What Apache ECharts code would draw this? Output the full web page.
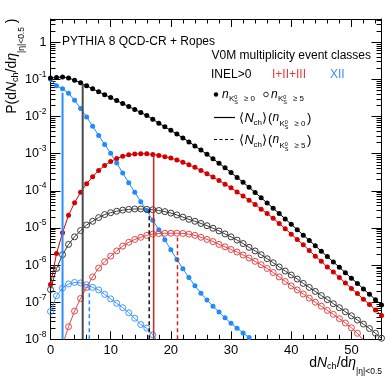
<!DOCTYPE html>
<html>
<head>
<meta charset="utf-8">
<script src="https://cdn.jsdelivr.net/npm/echarts@6/dist/echarts.min.js"></script>
<style>
html, body { margin: 0; padding: 0; background: #fff; }
#chart { width: 389px; height: 378px; }
</style>
</head>
<body>
<div id="chart"></div>
<script>
// dNch/deta bins
const nch = [0,1,2,3,4,5,6,7,8,9,10,11,12,13,14,15,16,17,18,19,20,21,22,23,24,25,26,27,
  28,29,30,31,32,33,34,35,36,37,38,39,40,41,42,43,44,45,46,47,48,49,50,51,52,53,54,55];

// n(K0S) >= 0, filled markers
const inelAll = [0.110,0.112,0.117,0.110,0.0955,0.0813,0.0676,0.0562,0.0468,0.0389,0.0324,0.0269,
  0.0224,0.0186,0.0155,0.0129,0.0107,8.5e-3,6.6e-3,5.3e-3,4.25e-3,3.37e-3,2.66e-3,2.08e-3,1.62e-3,
  1.25e-3,9.6e-4,7.3e-4,5.5e-4,4.2e-4,3.1e-4,2.3e-4,1.7e-4,1.24e-4,9.0e-5,6.5e-5,4.7e-5,3.4e-5,
  2.44e-5,1.75e-5,1.25e-5,9.0e-6,6.4e-6,4.6e-6,3.3e-6,2.36e-6,1.69e-6,1.21e-6,8.7e-7,6.2e-7,4.4e-7,
  3.2e-7,2.28e-7,1.63e-7,1.17e-7,8.4e-8];
const midAll = [3.0e-7,2.04e-6,7.4e-6,2.19e-5,4.8e-5,9.1e-5,1.55e-4,2.4e-4,3.55e-4,4.8e-4,6.2e-4,
  7.4e-4,8.5e-4,9.3e-4,9.8e-4,1.0e-3,9.9e-4,9.5e-4,9.0e-4,8.3e-4,7.6e-4,6.8e-4,5.9e-4,5.0e-4,4.3e-4,
  3.55e-4,2.9e-4,2.34e-4,1.9e-4,1.51e-4,1.2e-4,9.3e-5,7.2e-5,5.6e-5,4.3e-5,3.2e-5,2.45e-5,1.82e-5,
  1.32e-5,9.5e-6,6.8e-6,4.9e-6,3.5e-6,2.45e-6,1.74e-6,1.26e-6,8.9e-7,6.5e-7,4.6e-7,3.3e-7,2.34e-7,
  1.7e-7,1.2e-7,8.7e-8,6.2e-8,4.4e-8];
const highAll = [0.102,0.0676,0.0562,0.0427,0.0275,0.0166,9.8e-3,5.5e-3,3.1e-3,1.78e-3,1.02e-3,
  5.6e-4,3.0e-4,1.66e-4,9.1e-5,5.1e-5,2.95e-5,1.62e-5,8.9e-6,4.8e-6,2.57e-6,1.41e-6,7.9e-7,4.6e-7,
  2.75e-7,1.74e-7,1.15e-7,7.8e-8,5.4e-8,3.8e-8,2.7e-8,2.0e-8,1.48e-8,1.12e-8];

// n(K0S) >= 5, open markers
const inelK5 = [2.19e-7,8.1e-7,1.9e-6,3.6e-6,5.75e-6,8.5e-6,1.2e-5,1.51e-5,1.9e-5,2.29e-5,2.57e-5,
  2.82e-5,3.02e-5,3.16e-5,3.24e-5,3.24e-5,3.16e-5,3.09e-5,2.95e-5,2.75e-5,2.51e-5,2.24e-5,1.95e-5,
  1.7e-5,1.51e-5,1.32e-5,1.15e-5,9.8e-6,8.3e-6,6.9e-6,5.75e-6,4.7e-6,3.8e-6,3.0e-6,2.4e-6,1.9e-6,
  1.48e-6,1.15e-6,8.9e-7,6.9e-7,5.4e-7,4.2e-7,3.2e-7,2.5e-7,1.95e-7,1.51e-7,1.17e-7,9.1e-8,7.1e-8,
  5.5e-8,4.3e-8,3.3e-8,2.57e-8,1.95e-8,1.45e-8,1.07e-8];
const midK5Start = 2;
const midK5 = [7.1e-9,2.19e-8,5.75e-8,1.26e-7,2.5e-7,4.8e-7,8.3e-7,1.23e-6,1.74e-6,2.4e-6,3.24e-6,
  4.1e-6,4.9e-6,5.6e-6,6.3e-6,6.8e-6,7.1e-6,7.2e-6,7.2e-6,7.2e-6,7.1e-6,6.8e-6,6.3e-6,5.6e-6,4.9e-6,
  4.3e-6,3.6e-6,3.1e-6,2.63e-6,2.24e-6,1.86e-6,1.55e-6,1.26e-6,1.02e-6,8.1e-7,6.3e-7,4.8e-7,3.6e-7,
  2.75e-7,2.14e-7,1.66e-7,1.29e-7,1.0e-7,7.8e-8,6.0e-8,4.7e-8,3.6e-8,2.75e-8,2.04e-8,1.45e-8,9.5e-9];
const highK5 = [5.6e-8,1.48e-7,2.4e-7,3.1e-7,3.4e-7,3.3e-7,2.95e-7,2.5e-7,2.14e-7,1.62e-7,1.23e-7,
  9.3e-8,7.1e-8,5.2e-8,3.7e-8,2.5e-8,2.0e-8,1.32e-8,7.9e-9];

// <Nch> markers: INEL>0, I+II+III, XII
const meanAllX = [5.35, 17.14, 2.0];
const meanAllTop = [0.071, 9.6e-4, 0.044];
const meanK5X = [16.4, 21.1, 6.45];
const meanK5Top = [3.15e-5, 5.5e-6, 2.9e-7];

// axis ticks
const xMajor = [0,10,20,30,40,50];
const xMinor = [2,4,6,8,12,14,16,18,22,24,26,28,32,34,36,38,42,44,46,48,52,54];
const yMajor = [1e-8,1e-7,1e-6,1e-5,1e-4,1e-3,1e-2,1e-1,1];
const yMinorMult = [2,3,4,5,6,7,8,9];
const yMin = 1e-8, yMax = 4.25;

const yMinor = [];
yMajor.forEach(function (d) {
  yMinorMult.forEach(function (m) { if (d * m < yMax) yMinor.push(d * m); });
});

const FONT = '"Liberation Sans", Arial, Helvetica, sans-serif';
const BLACK = '#000000', RED = '#d40000', BLUE = '#1f8bff';
const GREY = '#3a3a3a', RED_O = '#e34646', BLUE_O = '#3f95ff';

function pts(xs, ys) {
  return ys.map(function (y, i) { return [xs[i], y]; });
}

function filled(name, xs, ys, c) {
  return {
    name: name, type: 'line', data: pts(xs, ys),
    symbol: 'circle', symbolSize: 5, showAllSymbol: true,
    itemStyle: { color: c },
    lineStyle: { color: c, width: 1 },
    z: 3
  };
}
function open(name, xs, ys, c) {
  return {
    name: name, type: 'line', data: pts(xs, ys),
    symbol: 'circle', symbolSize: 6, showAllSymbol: true,
    itemStyle: { color: 'rgba(0,0,0,0)', borderColor: c, borderWidth: 1 },
    lineStyle: { color: c, width: 1 },
    z: 3
  };
}
function vline(x, top, c, w, dashed) {
  return {
    type: 'line', data: [[x, yMin], [x, top]], symbol: 'none',
    lineStyle: { color: c, width: w, type: dashed ? [4, 3] : 'solid' },
    z: 4
  };
}

function txt(x, y, s, size, italic, color, align) {
  return {
    type: 'text', x: x, y: y, silent: true,
    style: {
      text: s, fill: color || '#000',
      font: (italic ? 'italic ' : '') + size + 'px ' + FONT,
      align: align || 'left', verticalAlign: 'middle'
    }
  };
}
// n with K0S subscript and cut
function nK(x, y, cut, big) {
  return [
    txt(x, y, 'n', 12, true),
    txt(x + 7, y + (big ? 6 : 4.5), 'K', 8),
    txt(x + 12.3, y + (big ? 4 : 2.5), '0', 5.5),
    txt(x + 12.3, y + (big ? 9.5 : 8), 'S', 5.5),
    txt(x + 22, y + (big ? 5.5 : 4.5), '\u2265 ' + cut, 8)
  ];
}
function meanRow(y, cut) {
  return [
    txt(239, y, '\u27e8', 13),
    txt(244.5, y, 'N', 13, true),
    txt(253.5, y + 4.5, 'ch', 8),
    txt(261.5, y, '\u27e9', 13),
    txt(268, y, '(', 13)
  ].concat(nK(272.5, y, cut, true)).concat([txt(307, y, ')', 13)]);
}

const graphics = [
  txt(62, 42, 'PYTHIA 8 QCD-CR + Ropes', 12),
  txt(371, 56, 'V0M multiplicity event classes', 12, false, '#000', 'right'),
  txt(211, 75, 'INEL>0', 12),
  txt(272, 75, 'I+II+III', 12, false, '#e8383a'),
  txt(330, 75, 'XII', 12, false, '#3a8ef5'),
  { type: 'circle', silent: true, shape: { cx: 216, cy: 94.5, r: 2.2 }, style: { fill: '#000' } },
  { type: 'circle', silent: true, shape: { cx: 266, cy: 94.5, r: 2.3 },
    style: { fill: 'none', stroke: '#000', lineWidth: 0.8 } },
  { type: 'line', silent: true, shape: { x1: 214, y1: 117.5, x2: 235, y2: 117.5 },
    style: { stroke: '#000', lineWidth: 1.2 } },
  { type: 'line', silent: true, shape: { x1: 214, y1: 139.5, x2: 235, y2: 139.5 },
    style: { stroke: '#000', lineWidth: 1.2, lineDash: [3, 2.5] } },
  // x axis title
  {
    type: 'text', x: 382, y: 363, silent: true,
    style: {
      text: '{a|d}{i|N}{c|ch}{a|/d}{i|\u03b7}{s||\u03b7|<0.5}',
      align: 'right', verticalAlign: 'middle', fill: '#000',
      rich: {
        a: { fontSize: 14, fontFamily: FONT },
        i: { fontSize: 14, fontFamily: FONT, fontStyle: 'italic' },
        c: { fontSize: 9, fontFamily: FONT, padding: [7, 0, 0, 0] },
        s: { fontSize: 8.5, fontFamily: FONT, padding: [18, 0, 0, 0] }
      }
    }
  },
  // y axis title
  {
    type: 'text', x: 12.5, y: 18.5, rotation: Math.PI / 2, silent: true,
    style: {
      text: '{a|P(d}{i|N}{c|ch}{a|/d}{i|\u03b7}{s||\u03b7|<0.5}{a| )}',
      align: 'right', verticalAlign: 'middle', fill: '#000',
      rich: {
        a: { fontSize: 14, fontFamily: FONT },
        i: { fontSize: 14, fontFamily: FONT, fontStyle: 'italic' },
        c: { fontSize: 9, fontFamily: FONT, padding: [7, 0, 0, 0] },
        s: { fontSize: 8.5, fontFamily: FONT, padding: [18, 0, 0, 0] }
      }
    }
  }
].concat(nK(222, 94.5, 0)).concat(nK(271, 94.5, 5))
 .concat(meanRow(118, 0)).concat(meanRow(140, 5));

function xAx(pos, ticks, len, labels, line) {
  return {
    type: 'value', min: 0, max: 55, position: pos,
    axisLine: { show: line, onZero: false, lineStyle: { color: '#000', width: 1 } },
    axisTick: { show: true, inside: true, length: len, customValues: ticks,
      lineStyle: { color: '#000', width: 1 } },
    axisLabel: { show: labels, customValues: xMajor, color: '#000', fontSize: 13,
      fontFamily: FONT, margin: 5 },
    splitLine: { show: false }
  };
}
function yAx(pos, ticks, len, labels, line) {
  return {
    type: 'log', logBase: 10, min: yMin, max: yMax, position: pos,
    axisLine: { show: line, onZero: false, lineStyle: { color: '#000', width: 1 } },
    axisTick: { show: true, inside: true, length: len, customValues: ticks,
      lineStyle: { color: '#000', width: 1 } },
    axisLabel: {
      show: labels, customValues: yMajor, margin: 4,
      formatter: function (v) {
        const e = Math.round(Math.log10(v));
        return e === 0 ? '{b|1}' : '{b|10}{s|' + e + '}';
      },
      rich: {
        b: { fontSize: 12.5, fontFamily: FONT, color: '#000' },
        s: { fontSize: 8.5, fontFamily: FONT, color: '#000', padding: [0, 0, 10, 0] }
      }
    },
    splitLine: { show: false }
  };
}

const chart = echarts.init(document.getElementById('chart'), null, { renderer: 'canvas' });
chart.setOption({
  animation: false,
  backgroundColor: '#fff',
  grid: { left: 50.5, width: 331, top: 19, height: 320.3, containLabel: false },
  xAxis: [
    xAx('bottom', xMajor, 8, true, true),
    xAx('bottom', xMinor, 4.5, false, false),
    xAx('top', xMajor, 8, false, true),
    xAx('top', xMinor, 4.5, false, false)
  ],
  yAxis: [
    yAx('left', yMajor, 10, true, true),
    yAx('left', yMinor, 5, false, false),
    yAx('right', yMajor, 10, false, true),
    yAx('right', yMinor, 5, false, false)
  ],
  series: [
    vline(meanAllX[0], meanAllTop[0], '#4a4a4a', 2, false),
    vline(meanAllX[1], meanAllTop[1], '#d42020', 1.5, false),
    vline(meanAllX[2], meanAllTop[2], '#2a8cff', 2, false),
    vline(meanK5X[0], meanK5Top[0], '#111', 1.5, true),
    vline(meanK5X[1], meanK5Top[1], '#d42020', 1.5, true),
    vline(meanK5X[2], meanK5Top[2], '#2a8cff', 1.5, true),
    filled('XII', nch.slice(0, highAll.length), highAll, BLUE),
    filled('I+II+III', nch, midAll, RED),
    filled('INEL>0', nch, inelAll, BLACK),
    open('INEL>0 K5', nch, inelK5, GREY),
    open('I+II+III K5', nch.slice(midK5Start, midK5Start + midK5.length), midK5, RED_O),
    open('XII K5', nch.slice(0, highK5.length), highK5, BLUE_O)
  ],
  graphic: graphics
});
</script>
</body>
</html>
